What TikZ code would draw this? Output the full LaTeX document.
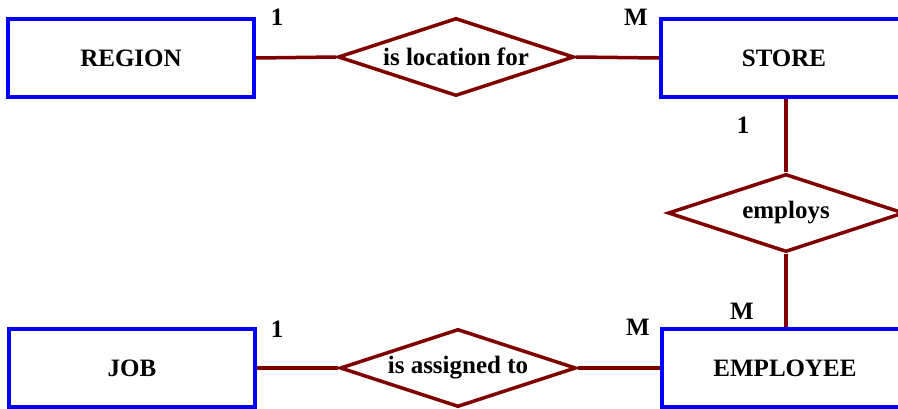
\documentclass[tikz,border=0pt]{standalone}
\usepackage{fontspec}
\setmainfont{Liberation Serif}
\usetikzlibrary{shapes.geometric}
\definecolor{linkred}{RGB}{128,0,0}
\tikzset{
  entity/.style={draw=blue, line width=4pt, fill=white, rectangle,
    minimum width=246pt, minimum height=78pt, inner sep=0pt},
  relation/.style={draw=linkred, line width=3.5pt, fill=white, diamond,
    shape aspect=3.03, minimum width=236pt, minimum height=78pt, inner sep=0pt},
  link/.style={draw=linkred, line width=3.5pt},
  card/.style={inner sep=0pt}
}
\begin{document}
\begin{tikzpicture}[x=1pt,y=-1pt,font=\fontsize{25}{30}\selectfont\bfseries]
  \useasboundingbox (0,0) rectangle (898,409);
  \clip (0,0) rectangle (898,409);
  % entities
  \node[entity] (region) at (131,58) {REGION};
  \node[entity] (store) at (784,58) {STORE};
  \node[entity] (job) at (132,368) {JOB};
  \node[entity] (employee) at (785,368) {EMPLOYEE};
  % relations
  \node[relation] (locfor) at (456,57) {is location for};
  \node[relation] (employs) at (786,213) {employs};
  \node[relation] (assigned) at (458,368) {is assigned to};
  % links
  \draw[link] (region.east) -- (locfor.west);
  \draw[link] (locfor.east) -- (store.west);
  \draw[link] (store.south -| employs.north) -- (employs.north);
  \draw[link] (employs.south) -- (employee.north -| employs.south);
  \draw[link] (job.east) -- (assigned.west);
  \draw[link] (assigned.east) -- (employee.west);
  % cardinalities
  \node[card] (c1) at (277,17) {1};
  \node[card] (c2) at (636,17) {M};
  \node[card] (c3) at (743,125) {1};
  \node[card] (c4) at (742,311) {M};
  \node[card] (c5) at (277,329) {1};
  \node[card] (c6) at (638,327) {M};
\end{tikzpicture}
\end{document}
